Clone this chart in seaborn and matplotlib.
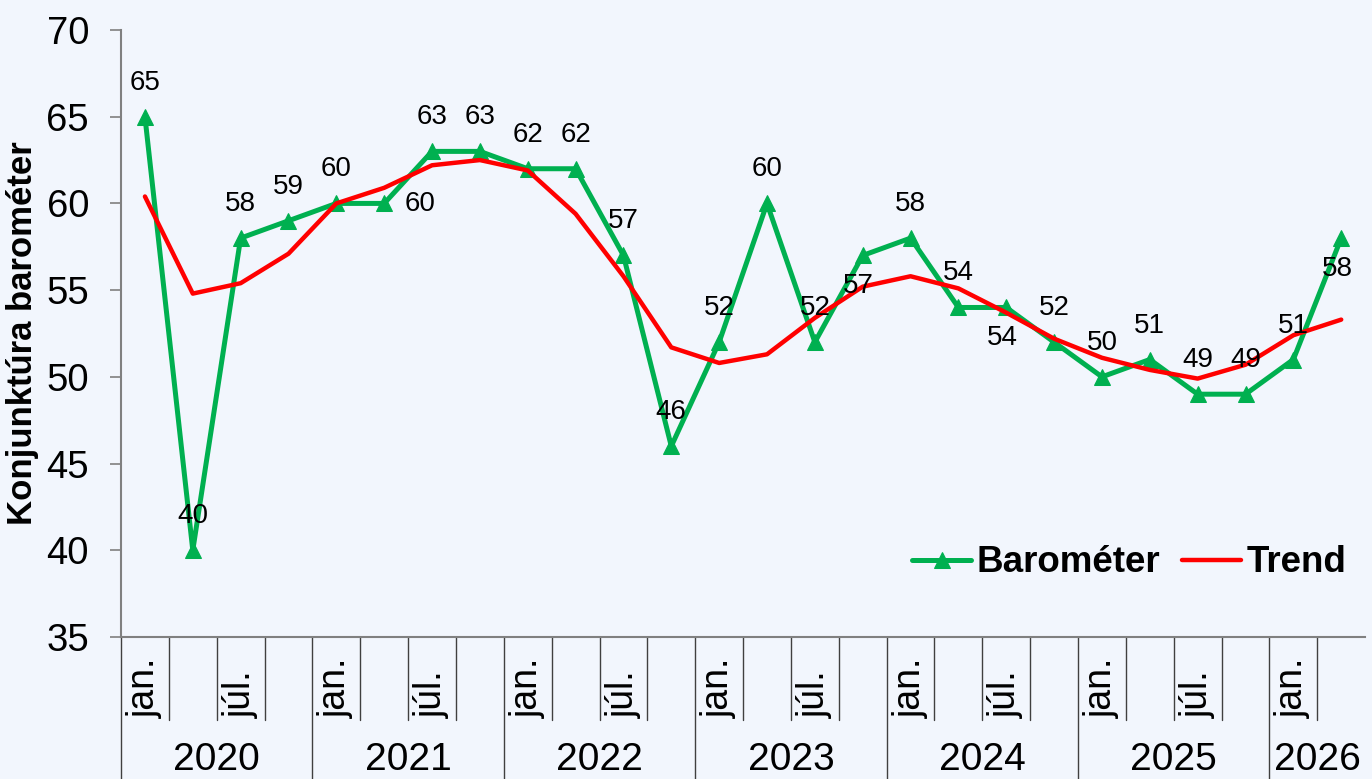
import matplotlib
matplotlib.use("Agg")
import matplotlib.pyplot as plt
import matplotlib.transforms as mtransforms
import pandas as pd
import seaborn as sns

# quarterly data, 2020 jan. .. 2026 apr.
years = ["2020", "2021", "2022", "2023", "2024", "2025", "2026"]
quarters_per_year = [4, 4, 4, 4, 4, 4, 2]
quarter_names = ["jan.", "", "júl.", ""]

barometer = [65, 40, 58, 59, 60, 60, 63, 63, 62, 62, 57, 46, 52, 60, 52, 57,
             58, 54, 54, 52, 50, 51, 49, 49, 51, 58]
trend = [60.4, 54.8, 55.4, 57.1, 60.0, 60.9, 62.2, 62.5, 61.9, 59.4, 55.8,
         51.7, 50.8, 51.3, 53.4, 55.2, 55.8, 55.1, 53.7, 52.2, 51.1, 50.4,
         49.9, 50.7, 52.4, 53.3]

# where each value label sits relative to its point
label_pos = ["above"] * len(barometer)
label_pos[5] = "right"
label_pos[15] = "below"
label_pos[18] = "below"
label_pos[25] = "below"

BG = "#F2F6FD"
GREEN = "#00B050"
RED = "#FF0000"

sns.set_theme(style="white")
plt.rcParams["font.family"] = ["Liberation Sans", "DejaVu Sans"]
plt.rcParams["text.color"] = "black"
plt.rcParams["axes.labelcolor"] = "black"

df = pd.DataFrame({"idx": range(len(barometer)), "Barométer": barometer, "Trend": trend})

fig = plt.figure(figsize=(13.72, 7.79), dpi=100, facecolor=BG)
ax = fig.add_axes([0.0882, 0.1823, 0.9068, 0.7792])
ax.set_facecolor(BG)

sns.lineplot(data=df, x="idx", y="Barométer", ax=ax, color=GREEN, lw=3.6,
             marker="^", markersize=11, markeredgecolor=GREEN, label="Barométer",
             zorder=3)
sns.lineplot(data=df, x="idx", y="Trend", ax=ax, color=RED, lw=3.2, label="Trend",
             zorder=4)

for i, v in enumerate(barometer):
    off = {"above": (0, 34), "below": (-4, -31), "right": (36, -1)}[label_pos[i]]
    ax.annotate(str(v), (i, v), xytext=off, textcoords="offset pixels",
                ha="center", va="center", fontsize=20, color="black", zorder=5)

n = len(barometer)
ax.set_xlim(-0.5, n - 0.5)
ax.set_ylim(35, 70)
ax.set_yticks(range(35, 71, 5))
ax.tick_params(axis="y", labelsize=27.5, length=8, width=1.2, color="#808080",
               pad=15, left=True, labelcolor="black")
ax.set_xticks([])
ax.set_xlabel("")
ax.set_ylabel("Konjunktúra barométer", fontsize=25, fontweight="bold", color="black")
ax.yaxis.set_label_coords(-0.066, 0.5)

for side in ["top", "right"]:
    ax.spines[side].set_visible(False)
for side in ["left", "bottom"]:
    ax.spines[side].set_color("#808080")
    ax.spines[side].set_linewidth(1.5)

# two-level category axis drawn below the plot
trans = mtransforms.blended_transform_factory(ax.transData, ax.transAxes)
band_bottom = -0.137
fig_bottom = -0.25
slot = 0
for y_name, nq in zip(years, quarters_per_year):
    ax.plot([slot - 0.5, slot - 0.5], [0, fig_bottom], transform=trans,
            color="#404040", lw=1, clip_on=False)
    for q in range(nq):
        if q > 0:
            ax.plot([slot + q - 0.5, slot + q - 0.5], [0, band_bottom],
                    transform=trans, color="#404040", lw=1, clip_on=False)
        if quarter_names[q]:
            ax.text(slot + q, band_bottom + 0.004, quarter_names[q], transform=trans,
                    rotation=90, ha="center", va="bottom", fontsize=27, color="black")
    ax.text(slot + (nq - 1) / 2, -0.2315, y_name, transform=trans,
            ha="center", va="bottom", fontsize=28, color="black")
    slot += nq

leg = ax.legend(loc="center right", bbox_to_anchor=(0.985, 0.122), ncol=2,
                frameon=False, fontsize=26.5, handlelength=1.6, handletextpad=0.15,
                columnspacing=0.6, borderpad=0, borderaxespad=0)
for t in leg.get_texts():
    t.set_fontweight("bold")
    t.set_color("black")

fig.savefig("out.png", dpi=100, facecolor=BG)
